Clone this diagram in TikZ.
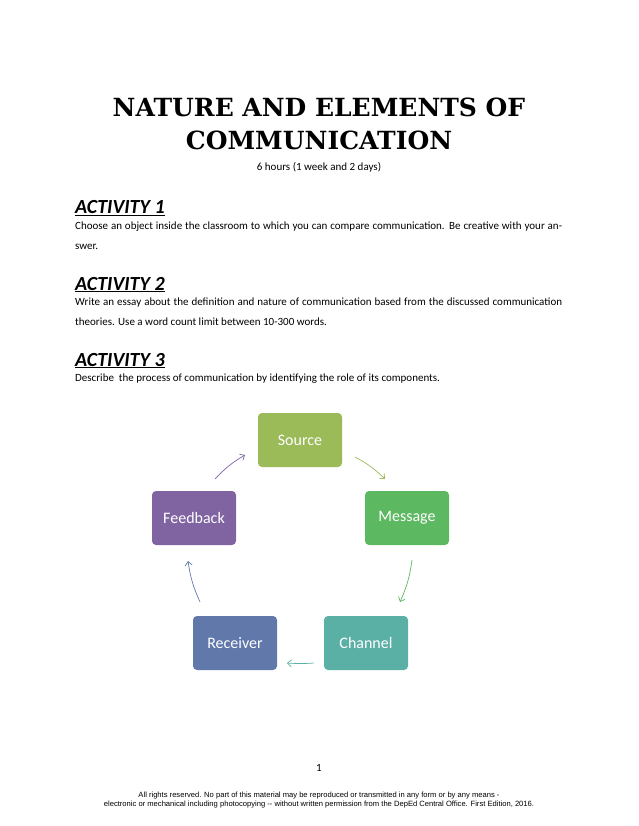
\documentclass[tikz,border=0pt]{standalone}
\usepackage{fontspec}
\setmainfont{Carlito}
\newfontfamily\titlefont{DejaVu Serif}
\newfontfamily\footfont{Liberation Sans}
\usetikzlibrary{arrows.meta}
\definecolor{csrc}{HTML}{9BBB59}
\definecolor{cmsg}{HTML}{5DB862}
\definecolor{cfb}{HTML}{8064A2}
\definecolor{crec}{HTML}{6178AA}
\definecolor{cch}{HTML}{5BB0A5}
\tikzset{
 elem/.style={rounded corners=4pt, minimum width=84pt, minimum height=54pt, text=white, font=\fontsize{16}{18}\selectfont, inner sep=0pt},
 heading/.style={anchor=base west, inner sep=0pt, font=\fontsize{20}{24}\selectfont\bfseries\itshape},
 body/.style={anchor=north west, inner sep=0pt, text width=487pt, align=justify, font=\fontsize{11}{20}\selectfont},
 cyc/.style={-{Straight Barb[length=4pt,width=7pt]}, line width=0.7pt}
}
\begin{document}
\begin{tikzpicture}[x=1pt,y=-1pt]
\useasboundingbox (0,0) rectangle (638,826);
\node[font=\titlefont\fontsize{25}{30}\selectfont\bfseries, align=center, inner sep=0pt] (t1) at (319,107) {NATURE AND ELEMENTS OF};
\node[font=\titlefont\fontsize{25}{30}\selectfont\bfseries, inner sep=0pt] (t2) at (319,140) {COMMUNICATION};
\node[font=\fontsize{11}{13}\selectfont, inner sep=0pt] (sub) at (319,167) {6 hours (1 week and 2 days)};
\node[heading] (h1) at (75,214) {\underline{ACTIVITY 1}};
\node[body] (b1) at (75,222) {Choose an object inside the classroom to which you can compare communication. Be creative with your answer.};
\node[heading] (h2) at (75,290) {\underline{ACTIVITY 2}};
\node[body] (b2) at (75,298) {Write an essay about the definition and nature of communication based from the discussed communication theories. Use a word count limit between 10-300 words.};
\node[heading] (h3) at (75,366) {\underline{ACTIVITY 3}};
\node[body] (b3) at (75,374) {Describe\ \ the process of communication by identifying the role of its components.};
\node[elem, fill=csrc] (src) at (300,440) {Source};
\node[elem, fill=cmsg] (msg) at (407,518) {Message};
\node[elem, fill=cfb] (fb) at (194,518) {Feedback};
\node[elem, fill=crec] (rec) at (235,643) {Receiver};
\node[elem, fill=cch] (ch) at (366,643) {Channel};
\coordinate (a1) at (355,457); \coordinate (a2) at (385,479);
\coordinate (b1s) at (412,560); \coordinate (b2e) at (400,602);
\coordinate (c1) at (314,663); \coordinate (c2) at (287,663);
\coordinate (d1) at (200,602); \coordinate (d2) at (188,561);
\coordinate (e1) at (215,479); \coordinate (e2) at (245,455);
\draw[cyc, csrc] (a1) to[bend left=8] (a2);
\draw[cyc, cmsg] (b1s) to[bend left=8] (b2e);
\draw[cyc, cch] (c1) to[bend left=4] (c2);
\draw[cyc, crec] (d1) to[bend left=8] (d2);
\draw[cyc, cfb] (e1) to[bend left=8] (e2);
\node[font=\fontsize{11}{13}\selectfont, inner sep=0pt] (pg) at (319,768) {1};
\node[font=\footfont\fontsize{7.6}{9}\selectfont, align=center, inner sep=0pt] (ft) at (319,800) {All rights reserved. No part of this material may be reproduced or transmitted in any form or by any means -\\electronic or mechanical including photocopying -- without written permission from the DepEd Central Office. First Edition, 2016.};
\end{tikzpicture}
\end{document}
